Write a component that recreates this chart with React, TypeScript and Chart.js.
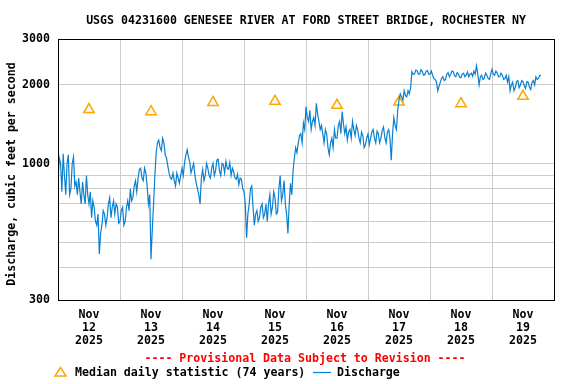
import React, { useEffect, useRef } from 'react';
import { Chart, registerables } from 'chart.js';

Chart.register(...registerables);

// ---------- text ----------
const TITLE = 'USGS 04231600 GENESEE RIVER AT FORD STREET BRIDGE, ROCHESTER NY';
const Y_TITLE = 'Discharge, cubic feet per second';
const PROVISIONAL = '---- Provisional Data Subject to Revision ----';
const LEGEND_MEDIAN = 'Median daily statistic (74 years)';
const LEGEND_Q = 'Discharge';

// ---------- x axis (hours since Nov 12 2025 00:00) ----------
const monthLabel = 'Nov';
const yearLabel = '2025';
const dayLabels = ['12', '13', '14', '15', '16', '17', '18', '19'];
const dayNoonHours = [12, 36, 60, 84, 108, 132, 156, 180];
const xMinHour = 0;
const xMaxHour = 192;

// ---------- y axis ----------
const yGridValues = [300, 400, 500, 600, 700, 800, 900, 1000, 2000, 3000];
const yLabelValues = [300, 1000, 2000, 3000];

// ---------- median daily statistic ----------
const medianHours = [12, 36, 60, 84, 108, 132, 156, 180];
const medianValues = [1610, 1580, 1715, 1732, 1672, 1720, 1696, 1810];

// ---------- discharge, read on the hour from Nov 12 00:00 ----------
const dischargeStartHour = 0;
const dischargeOnHour = [
  866, 1000, 1090, 760, 1080, 800, 1060, 850, 880, 700, 760, 900,
  700, 620, 680, 580, 450, 580, 640, 620, 740, 680, 640, 680,
  600, 680, 600, 720, 800, 740, 860, 880, 960, 860, 920, 700,
  430, 700, 1100, 1230, 1120, 1200, 1050, 920, 870, 860, 920, 840,
  960, 1010, 1130, 1010, 960, 900, 800, 700, 950, 900, 960, 880,
  1000, 940, 1040, 900, 990, 1020, 950, 900, 930, 870, 830, 870,
  780, 520, 700, 820, 580, 660, 620, 700, 640, 600, 760, 680,
  740, 650, 900, 760, 700, 540, 840, 940, 1150, 1200, 1300, 1430,
  1650, 1450, 1350, 1500, 1700, 1450, 1400, 1200, 1300, 1080, 1250, 1350,
  1250, 1450, 1580, 1300, 1230, 1350, 1450, 1280, 1350, 1200, 1280, 1180,
  1300, 1250, 1350, 1200, 1300, 1250, 1380, 1200, 1350, 1030, 1500, 1350,
  1750, 1800, 1900, 1800, 1850, 2250, 2200, 2270, 2200, 2250, 2190, 2270,
  2200, 2180, 2100, 1900, 2050, 2150, 2100, 2230, 2200, 2250, 2150, 2200,
  2130, 2220, 2180, 2150, 2220, 2260, 2370, 2000, 2180, 2120, 2180, 2100,
  2300, 2180, 2220, 2150, 2180, 2120, 2050, 1900, 2050, 1950, 2080, 2000,
  2060, 1940, 2050, 1920, 2080, 2150, 2120, 2170,
];

// ---------- discharge, read at half past each hour ----------
const dischargeHalfPast = [
  1050, 780, 900, 1000, 760, 1000, 820, 760, 780, 850, 700, 760,
  780, 720, 600, 640, 540, 660, 580, 700, 620, 720, 700, 590,
  660, 580, 680, 660, 720, 820, 780, 950, 880, 960, 820, 760,
  560, 900, 1200, 1150, 1250, 1080, 980, 880, 920, 820, 880, 900,
  900, 1080, 1060, 920, 1000, 840, 760, 880, 860, 1000, 900, 960,
  900, 1030, 940, 1000, 920, 960, 1010, 960, 880, 910, 880, 800,
  700, 640, 800, 680, 640, 600, 680, 620, 700, 700, 640, 780,
  640, 800, 720, 860, 640, 700, 760, 1050, 1100, 1280, 1200, 1350,
  1500, 1600, 1450, 1400, 1550, 1350, 1300, 1350, 1150, 1200, 1150, 1250,
  1400, 1300, 1420, 1380, 1320, 1250, 1350, 1400, 1250, 1320, 1150, 1250,
  1180, 1320, 1250, 1330, 1200, 1340, 1260, 1320, 1250, 1300, 1400, 1600,
  1850, 1750, 1820, 1900, 1950, 2200, 2280, 2200, 2290, 2180, 2260, 2200,
  2260, 2120, 2050, 1980, 2120, 2080, 2200, 2150, 2260, 2170, 2230, 2140,
  2200, 2150, 2240, 2200, 2160, 2200, 2200, 2150, 2100, 2220, 2120, 2200,
  2200, 2260, 2150, 2220, 2100, 2180, 2150, 2000, 1900, 2060, 1950, 2080,
  1980, 2060, 1960, 2050, 2000, 2100, 2180,
];

const FAMILY = '"DejaVu Sans Mono", "Liberation Mono", monospace';
const FONT_SIZE = 11.6;
const FONT = `bold ${FONT_SIZE}px ${FAMILY}`;
const Q_COLOR = '#0a80d0';
const MEDIAN_COLOR = '#ffa500';

const decorPlugin = {
  id: 'decor',
  afterDraw(chart: any) {
    const ctx = chart.ctx as CanvasRenderingContext2D;
    const a = chart.chartArea;
    ctx.save();
    // plot frame
    ctx.strokeStyle = '#000';
    ctx.lineWidth = 1;
    ctx.strokeRect(Math.round(a.left) + 0.5, Math.round(a.top) + 0.5,
      Math.round(a.right) - Math.round(a.left), Math.round(a.bottom) - Math.round(a.top));

    ctx.font = FONT;
    ctx.fillStyle = '#000';
    ctx.textBaseline = 'middle';
    ctx.textAlign = 'center';
    ctx.fillText(TITLE, 306, 20.5);

    // y title
    ctx.save();
    ctx.translate(12, 174);
    ctx.rotate(-Math.PI / 2);
    ctx.fillText(Y_TITLE, 0, 0);
    ctx.restore();

    // provisional
    ctx.fillStyle = '#ff0000';
    ctx.fillText(PROVISIONAL, 305, 358.5);

    // legend
    ctx.strokeStyle = MEDIAN_COLOR;
    ctx.lineWidth = 1.5;
    ctx.beginPath();
    ctx.moveTo(60.5, 367.5);
    ctx.lineTo(66, 376);
    ctx.lineTo(55, 376);
    ctx.closePath();
    ctx.stroke();
    ctx.fillStyle = '#000';
    ctx.textAlign = 'left';
    ctx.fillText(LEGEND_MEDIAN, 75, 372.5);
    ctx.strokeStyle = Q_COLOR;
    ctx.lineWidth = 1.2;
    ctx.beginPath();
    ctx.moveTo(313, 372.5);
    ctx.lineTo(331, 372.5);
    ctx.stroke();
    ctx.fillText(LEGEND_Q, 337, 372.5);
    ctx.restore();
  },
};

export default function App() {
  const ref = useRef<HTMLCanvasElement | null>(null);

  useEffect(() => {
    if (!ref.current) return;
    const discharge: { x: number; y: number }[] = [];
    dischargeOnHour.forEach((v, i) => {
      discharge.push({ x: dischargeStartHour + i, y: v });
      if (i < dischargeHalfPast.length) {
        discharge.push({ x: dischargeStartHour + i + 0.5, y: dischargeHalfPast[i] });
      }
    });
    const median = medianHours.map((h, i) => ({ x: h, y: medianValues[i] }));

    const chart = new Chart(ref.current, {
      type: 'line',
      data: {
        datasets: [
          {
            label: LEGEND_Q,
            data: discharge,
            borderColor: Q_COLOR,
            borderWidth: 1.2,
            pointRadius: 0,
            tension: 0,
            fill: false,
          },
          {
            label: LEGEND_MEDIAN,
            data: median,
            showLine: false,
            pointStyle: 'triangle',
            pointRadius: 6,
            pointBorderWidth: 1.5,
            pointBorderColor: MEDIAN_COLOR,
            pointBackgroundColor: 'rgba(0,0,0,0)',
            borderColor: MEDIAN_COLOR,
          },
        ],
      },
      options: {
        animation: false,
        responsive: false,
        maintainAspectRatio: false,
        events: [],
        layout: { padding: { top: 39, right: 22, left: 0, bottom: 0 } },
        plugins: {
          legend: { display: false },
          title: { display: false },
          tooltip: { enabled: false },
        },
        scales: {
          x: {
            type: 'linear',
            min: xMinHour,
            max: xMaxHour,
            afterBuildTicks: (scale: any) => {
              scale.ticks = dayNoonHours.map((v) => ({ value: v }));
            },
            afterFit: (scale: any) => {
              scale.height = 84;
            },
            ticks: {
              autoSkip: false,
              maxRotation: 0,
              minRotation: 0,
              padding: 8,
              color: '#000',
              font: { family: FAMILY, size: FONT_SIZE, weight: 'bold', lineHeight: 13 / FONT_SIZE },
              callback: (value: any) => {
                const idx = dayNoonHours.indexOf(Number(value));
                return idx >= 0 ? [monthLabel, dayLabels[idx], yearLabel] : '';
              },
            },
            grid: { offset: true, color: '#cccccc', lineWidth: 1, drawTicks: false },
            border: { display: false },
          },
          y: {
            type: 'logarithmic',
            min: 300,
            max: 3000,
            afterBuildTicks: (scale: any) => {
              scale.ticks = yGridValues.map((v) => ({ value: v }));
            },
            afterFit: (scale: any) => {
              scale.width = 58;
            },
            ticks: {
              autoSkip: false,
              padding: 8,
              color: '#000',
              font: { family: FAMILY, size: FONT_SIZE, weight: 'bold' },
              callback: (value: any) => (yLabelValues.includes(Number(value)) ? String(value) : ''),
            },
            grid: { color: '#cccccc', lineWidth: 1, drawTicks: false },
            border: { display: false },
          },
        },
      },
      plugins: [decorPlugin],
    } as any);

    return () => chart.destroy();
  }, []);

  return (
    <div style={{ position: 'absolute', left: 0, top: 0, width: 576, height: 384, background: '#fff' }}>
      <canvas ref={ref} width={576} height={384} style={{ width: 576, height: 384, display: 'block' }} />
    </div>
  );
}
